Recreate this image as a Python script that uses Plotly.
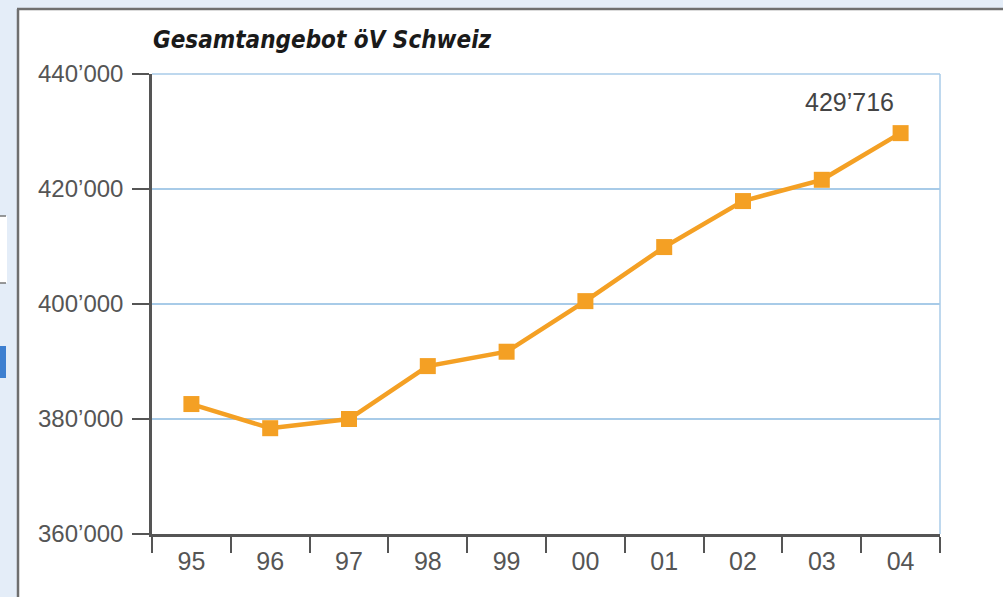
import plotly.graph_objects as go

years = ["95", "96", "97", "98", "99", "00", "01", "02", "03", "04"]
values = [382600, 378400, 380000, 389200, 391700, 400500, 409900, 417900, 421600, 429716]
y_ticks = [360000, 380000, 400000, 420000, 440000]
y_tick_labels = ["360’000", "380’000", "400’000", "420’000", "440’000"]
title_text = "Gesamtangebot öV Schweiz"
last_label = "429’716"

W, H = 1003, 597
L, R, T, B = 152, 940, 74, 534

def px(x):
    return (x - L) / (R - L)

def py(y):
    return (B - y) / (B - T)

fig = go.Figure()
fig.add_trace(go.Scatter(
    x=years, y=values, mode="lines+markers",
    line=dict(color="#f4a024", width=4.5),
    marker=dict(symbol="square", size=16, color="#f4a024"),
    hoverinfo="skip", showlegend=False,
))

shapes = [
    dict(type="rect", xref="paper", yref="paper", x0=px(18), x1=px(1010), y0=py(610), y1=py(9),
         fillcolor="white", line=dict(width=0), layer="below"),
    dict(type="line", xref="paper", yref="paper", x0=px(18), x1=px(18), y0=py(610), y1=py(9),
         line=dict(color="#6f6f6f", width=2.5), layer="below"),
    dict(type="line", xref="paper", yref="paper", x0=px(17), x1=px(1010), y0=py(9), y1=py(9),
         line=dict(color="#6f6f6f", width=2.5), layer="below"),
    dict(type="rect", xref="paper", yref="paper", x0=px(-5), x1=px(7), y0=py(283), y1=py(216),
         fillcolor="white", line=dict(width=0), layer="below"),
    dict(type="line", xref="paper", yref="paper", x0=px(-5), x1=px(6), y0=py(216), y1=py(216),
         line=dict(color="#777", width=1.5), layer="below"),
    dict(type="line", xref="paper", yref="paper", x0=px(-5), x1=px(6), y0=py(283), y1=py(283),
         line=dict(color="#777", width=1.5), layer="below"),
    dict(type="rect", xref="paper", yref="paper", x0=px(-5), x1=px(6), y0=py(378), y1=py(346),
         fillcolor="#3d7fd0", line=dict(width=0), layer="below"),
    dict(type="line", xref="paper", yref="paper", x0=0, x1=1, y0=1, y1=1,
         line=dict(color="#a8cbe8", width=1.5)),
    dict(type="line", xref="paper", yref="paper", x0=1, x1=1, y0=0, y1=1,
         line=dict(color="#a8cbe8", width=1.5)),
]

fig.update_layout(
    width=W, height=H,
    margin=dict(l=L, r=W - R, t=T, b=H - B),
    paper_bgcolor="#e4edf8",
    plot_bgcolor="#e0eaf6",
    shapes=shapes,
    font=dict(family="Liberation Sans, Arial, sans-serif", color="#555555"),
    xaxis=dict(
        type="category", range=[-0.5, 9.5], tickson="boundaries",
        ticks="outside", ticklen=16, tickwidth=2, tickcolor="#555555",
        showline=True, linecolor="#555555", linewidth=2.5,
        showgrid=False, zeroline=False, ticklabelstandoff=3,
        tickfont=dict(size=25, color="#555555"), fixedrange=True,
    ),
    yaxis=dict(
        range=[360000, 440000], tickvals=y_ticks, ticktext=y_tick_labels,
        ticks="outside", ticklen=17, tickwidth=2, tickcolor="#555555",
        showline=True, linecolor="#555555", linewidth=2.5,
        showgrid=True, gridcolor="#a8cbe8", gridwidth=1.5, zeroline=False,
        ticklabelstandoff=4,
        tickfont=dict(size=24, color="#555555"), fixedrange=True,
    ),
    annotations=[
        dict(text=f"<b><i>{title_text}</i></b>", xref="paper", yref="paper",
             x=px(151), y=py(40), xanchor="left", yanchor="middle", showarrow=False,
             font=dict(family="Liberation Sans Narrow, DejaVu Sans Condensed, Arial Narrow, sans-serif",
                       size=24, color="#1a1a1a")),
        dict(text=last_label, x=len(years) - 1, y=values[-1], xref="x", yref="y",
             xshift=-51, yshift=31, showarrow=False, xanchor="center", yanchor="middle",
             font=dict(size=25, color="#444444")),
    ],
)

fig.write_html("out.html", config={"displayModeBar": False},
               post_script="document.body.style.margin='0';document.body.style.padding='0';")
